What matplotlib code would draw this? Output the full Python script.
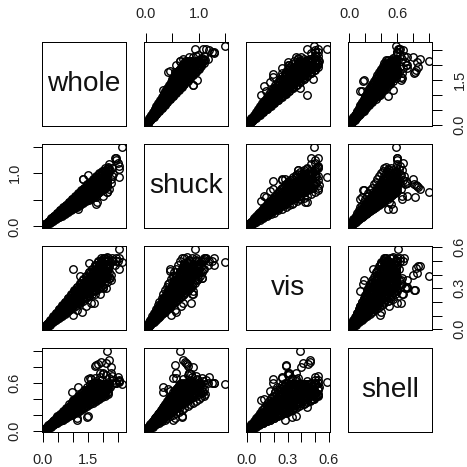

# Pairs plot of four weight measures
import matplotlib
matplotlib.use("Agg")
import matplotlib.pyplot as plt

plt.rcParams["font.family"] = ["Liberation Sans", "DejaVu Sans"]

whole = [
    .03, .09, .05, .10, .04, .08, .06, .05, .07, .09,
    .11, .18, .14, .19, .12, .17, .15, .13, .16, .18,
    .21, .28, .24, .29, .22, .27, .25, .23, .26, .28,
    .31, .38, .34, .39, .32, .37, .35, .33, .36, .38,
    .41, .48, .44, .49, .42, .47, .45, .43, .46, .48,
    .51, .58, .54, .59, .52, .57, .55, .53, .56, .58,
    .61, .68, .64, .69, .62, .67, .65, .63, .66, .68,
    .71, .78, .74, .79, .72, .77, .75, .73, .76, .78,
    .81, .88, .84, .89, .82, .87, .85, .83, .86, .88,
    .91, .98, .94, .99, .92, .97, .95, .93, .96, .98,
    1.01, 1.08, 1.04, 1.09, 1.02, 1.07, 1.05, 1.03, 1.06, 1.08,
    1.11, 1.18, 1.14, 1.19, 1.12, 1.17, 1.15, 1.13, 1.16, 1.18,
    1.21, 1.28, 1.24, 1.29, 1.22, 1.27, 1.25, 1.23, 1.26, 1.28,
    1.31, 1.38, 1.34, 1.39, 1.32, 1.37, 1.35, 1.33, 1.36, 1.38,
    1.41, 1.48, 1.44, 1.49, 1.42, 1.47, 1.45, 1.43, 1.46, 1.48,
    1.51, 1.58, 1.54, 1.59, 1.52, 1.57, 1.55, 1.53, 1.56, 1.58,
    1.61, 1.68, 1.64, 1.69, 1.62, 1.67, 1.65, 1.63, 1.66, 1.68,
    1.71, 1.78, 1.74, 1.79, 1.72, 1.77, 1.75, 1.73, 1.76, 1.78,
    1.81, 1.88, 1.84, 1.89, 1.82, 1.87, 1.85, 1.83, 1.86, 1.88,
    1.91, 1.98, 1.94, 1.99, 1.92, 1.97, 1.95, 1.93, 1.96, 1.98,
    2.01, 2.08, 2.04, 2.09, 2.02, 2.07, 2.05, 2.03, 2.06, 2.08,
    2.11, 2.18, 2.14, 2.19, 2.12, 2.17, 2.15, 2.13, 2.16, 2.18,
    # filling the middle of the cloud
    .07, .12, .09, .14, .06, .11, .13, .08, .10, .15,
    .17, .22, .19, .24, .16, .21, .23, .18, .20, .25,
    .27, .32, .29, .34, .26, .31, .33, .28, .30, .35,
    .37, .42, .39, .44, .36, .41, .43, .38, .40, .45,
    .47, .52, .49, .54, .46, .51, .53, .48, .50, .55,
    .57, .62, .59, .64, .56, .61, .63, .58, .60, .65,
    .67, .72, .69, .74, .66, .71, .73, .68, .70, .75,
    .77, .82, .79, .84, .76, .81, .83, .78, .80, .85,
    .87, .92, .89, .94, .86, .91, .93, .88, .90, .95,
    .97, 1.02, .99, 1.04, .96, 1.01, 1.03, .98, 1.00, 1.05,
    1.07, 1.12, 1.09, 1.14, 1.06, 1.11, 1.13, 1.08, 1.10, 1.15,
    1.17, 1.22, 1.19, 1.24, 1.16, 1.21, 1.23, 1.18, 1.20, 1.25,
    1.27, 1.32, 1.29, 1.34, 1.26, 1.31, 1.33, 1.28, 1.30, 1.35,
    1.37, 1.42, 1.39, 1.44, 1.36, 1.41, 1.43, 1.38, 1.40, 1.45,
    1.47, 1.52, 1.49, 1.54, 1.46, 1.51, 1.53, 1.48, 1.50, 1.55,
    1.57, 1.62, 1.59, 1.64, 1.56, 1.61, 1.63, 1.58, 1.60, 1.65,
    1.67, 1.72, 1.69, 1.74, 1.66, 1.71, 1.73, 1.68, 1.70, 1.75,
    1.77, 1.82, 1.79, 1.84, 1.76, 1.81, 1.83, 1.78, 1.80, 1.85,
    1.87, 1.92, 1.89, 1.94, 1.86, 1.91, 1.93, 1.88, 1.90, 1.95,
    1.97, 2.02, 1.99, 2.04, 1.96, 2.01, 2.03, 1.98, 2.00, 2.05,
    2.07, 2.12, 2.09, 2.14, 2.06, 2.11, 2.13, 2.08, 2.10, 2.15,
    # outlying shells
    2.63, 2.13, 2.52, 1.00, 2.20, 2.10, 1.76, 2.27, 2.27, 2.00,
    1.73, 1.57, 2.50, 2.45, 2.55, 2.40, 2.52, 2.30, 2.35, 2.20,
    2.30, 2.45, 2.25, 1.14, 1.50, 1.46, 1.15, .96, 1.18, 1.78,
    2.14, 1.51, 1.35, 1.33, 1.79, 1.25, 1.55, 1.29, 1.00, 1.70,
    1.43, 2.00, 2.20, 1.74, 1.90, 2.10, 1.60, 1.90, 1.85, 1.95,
]
shuck = [
    .01, .05, .02, .05, .01, .04, .03, .02, .04, .04,
    .04, .09, .06, .09, .04, .08, .07, .05, .09, .08,
    .08, .15, .10, .14, .07, .14, .11, .09, .14, .13,
    .11, .20, .14, .18, .11, .19, .15, .13, .19, .17,
    .15, .25, .18, .23, .14, .24, .20, .17, .25, .22,
    .18, .30, .23, .28, .17, .29, .24, .21, .30, .27,
    .22, .35, .27, .32, .20, .34, .29, .25, .36, .31,
    .26, .41, .31, .37, .24, .39, .33, .28, .41, .36,
    .29, .46, .35, .42, .27, .44, .37, .32, .46, .40,
    .33, .51, .39, .47, .30, .49, .42, .36, .52, .45,
    .36, .56, .44, .51, .34, .54, .46, .40, .57, .50,
    .40, .61, .48, .56, .37, .59, .51, .44, .63, .54,
    .43, .67, .52, .61, .40, .64, .55, .48, .68, .59,
    .47, .72, .56, .65, .44, .69, .59, .52, .73, .63,
    .51, .77, .60, .70, .47, .74, .64, .56, .79, .68,
    .54, .82, .65, .75, .50, .79, .68, .60, .84, .73,
    .58, .87, .69, .79, .53, .84, .73, .64, .89, .77,
    .62, .93, .73, .84, .57, .89, .77, .67, .95, .82,
    .67, .98, .77, .89, .63, .94, .81, .71, 1.00, .87,
    .72, 1.02, .81, .93, .68, .99, .85, .76, 1.05, .91,
    .80, 1.06, .88, .98, .76, 1.04, .90, .82, 1.09, .95,
    .88, 1.10, .95, 1.03, .85, 1.08, .98, .90, 1.12, 1.00,
    # filling the middle of the cloud
    .03, .04, .04, .05, .02, .05, .05, .04, .04, .05,
    .07, .08, .09, .08, .07, .10, .09, .08, .09, .09,
    .12, .12, .14, .12, .11, .155, .13, .13, .13, .12,
    .16, .155, .19, .15, .15, .205, .17, .175, .17, .16,
    .21, .19, .235, .18, .19, .255, .21, .22, .215, .19,
    .25, .23, .28, .22, .23, .305, .245, .27, .26, .23,
    .295, .265, .33, .25, .27, .355, .285, .31, .30, .26,
    .34, .30, .38, .285, .31, .405, .325, .36, .345, .30,
    .38, .34, .43, .32, .35, .455, .365, .405, .385, .33,
    .425, .38, .475, .355, .395, .505, .40, .45, .43, .37,
    .47, .415, .52, .39, .435, .555, .44, .495, .47, .40,
    .515, .45, .57, .42, .475, .605, .48, .54, .515, .44,
    .56, .49, .62, .455, .515, .655, .52, .59, .56, .47,
    .60, .525, .67, .49, .56, .705, .56, .635, .60, .51,
    .645, .56, .715, .525, .60, .755, .60, .68, .645, .54,
    .69, .60, .76, .56, .64, .805, .635, .725, .69, .58,
    .735, .635, .81, .59, .68, .855, .675, .77, .73, .61,
    .78, .67, .86, .63, .72, .905, .715, .82, .775, .65,
    .82, .71, .905, .66, .76, .955, .755, .865, .82, .68,
    .87, .75, .955, .70, .80, 1.00, .79, .91, .86, .72,
    .91, .80, 1.00, .75, .84, 1.05, .83, .95, .90, .78,
    # outlying shells
    1.49, .645, .93, .45, .70, .76, .55, .89, .81, .58,
    .58, .51, 1.19, 1.24, 1.08, 1.29, 1.14, .95, .98, 1.17,
    1.10, 1.28, 1.06, .55, .68, .68, .52, .33, .32, .42,
    .64, .96, .89, .90, .45, .52, .72, .58, .47, .86,
    .66, .86, 1.06, .80, .88, .80, .70, .82, .78, .75,
]
vis = [
    .01, .02, .01, .02, .01, .02, .01, .01, .02, .02,
    .03, .03, .04, .03, .03, .04, .03, .03, .04, .04,
    .05, .05, .06, .05, .05, .07, .05, .05, .07, .06,
    .07, .07, .09, .07, .07, .09, .06, .07, .09, .08,
    .10, .09, .12, .08, .09, .12, .08, .09, .12, .10,
    .12, .11, .15, .10, .11, .14, .10, .12, .15, .12,
    .15, .13, .17, .12, .13, .17, .12, .14, .17, .14,
    .17, .15, .20, .13, .15, .19, .14, .16, .20, .16,
    .19, .17, .23, .15, .17, .22, .15, .18, .22, .18,
    .22, .19, .25, .17, .19, .24, .17, .20, .25, .20,
    .24, .21, .28, .19, .21, .27, .19, .23, .28, .22,
    .27, .22, .31, .20, .24, .29, .21, .25, .30, .24,
    .29, .24, .33, .22, .26, .32, .23, .27, .33, .26,
    .31, .26, .36, .24, .28, .34, .24, .29, .35, .28,
    .34, .28, .39, .25, .30, .37, .26, .31, .38, .30,
    .36, .30, .42, .27, .32, .39, .28, .34, .41, .32,
    .39, .32, .44, .29, .34, .42, .30, .36, .43, .34,
    .41, .34, .47, .30, .36, .44, .32, .38, .46, .36,
    .43, .37, .49, .34, .39, .46, .35, .41, .48, .38,
    .45, .39, .51, .37, .42, .48, .38, .43, .50, .41,
    .46, .42, .52, .40, .44, .50, .41, .45, .52, .43,
    .46, .44, .51, .42, .46, .50, .43, .47, .52, .45,
    # filling the middle of the cloud
    .015, .02, .02, .03, .015, .02, .02, .02, .02, .04,
    .035, .04, .045, .05, .04, .045, .035, .045, .04, .065,
    .055, .06, .065, .07, .065, .07, .05, .07, .055, .095,
    .08, .075, .09, .09, .09, .09, .07, .09, .075, .12,
    .10, .095, .11, .11, .115, .11, .085, .115, .095, .15,
    .12, .11, .135, .13, .14, .135, .10, .14, .115, .175,
    .14, .13, .16, .15, .165, .155, .115, .165, .135, .20,
    .16, .15, .18, .17, .19, .18, .135, .19, .15, .23,
    .18, .165, .205, .19, .215, .20, .15, .21, .17, .255,
    .20, .185, .23, .21, .24, .22, .165, .235, .19, .285,
    .225, .20, .25, .23, .265, .245, .18, .26, .21, .31,
    .245, .22, .275, .25, .29, .265, .195, .285, .23, .34,
    .265, .24, .30, .27, .315, .29, .21, .31, .25, .365,
    .29, .255, .32, .29, .34, .31, .23, .33, .27, .39,
    .31, .275, .345, .31, .365, .33, .245, .355, .285, .42,
    .33, .29, .365, .33, .39, .355, .26, .38, .305, .445,
    .35, .31, .39, .35, .415, .375, .28, .40, .325, .47,
    .37, .33, .41, .37, .44, .40, .295, .425, .34, .50,
    .39, .345, .435, .39, .465, .42, .31, .45, .36, .52,
    .41, .365, .46, .41, .49, .44, .33, .475, .38, .52,
    .43, .38, .48, .43, .50, .46, .35, .50, .40, .53,
    # outlying shells
    .49, .39, .59, .44, .46, .41, .29, .40, .36, .30,
    .26, .33, .50, .50, .44, .47, .52, .52, .50, .47,
    .51, .52, .375, .14, .36, .33, .28, .21, .22, .33,
    .43, .36, .28, .26, .43, .39, .485, .125, .105, .19,
    .17, .31, .375, .285, .26, .30, .19, .31, .45, .465,
]
shell = [
    .01, .02, .01, .03, .01, .02, .02, .01, .02, .03,
    .03, .05, .03, .07, .03, .04, .05, .04, .03, .07,
    .06, .07, .05, .10, .06, .06, .08, .07, .05, .10,
    .09, .10, .07, .14, .09, .09, .12, .10, .08, .14,
    .12, .13, .10, .17, .11, .11, .15, .12, .10, .18,
    .15, .15, .12, .21, .14, .14, .18, .15, .12, .21,
    .18, .18, .14, .24, .17, .16, .21, .18, .14, .25,
    .21, .20, .16, .28, .19, .18, .25, .21, .16, .29,
    .24, .23, .18, .31, .22, .21, .28, .24, .18, .33,
    .27, .25, .21, .35, .25, .23, .31, .27, .20, .36,
    .30, .28, .23, .38, .28, .26, .35, .30, .22, .40,
    .33, .31, .25, .42, .30, .28, .38, .33, .24, .44,
    .36, .33, .27, .45, .33, .30, .41, .36, .26, .47,
    .39, .36, .29, .49, .36, .33, .45, .39, .29, .51,
    .42, .38, .32, .52, .38, .35, .48, .41, .31, .55,
    .45, .41, .34, .56, .41, .38, .51, .44, .33, .58,
    .48, .44, .36, .59, .44, .40, .54, .47, .35, .60,
    .51, .46, .38, .60, .46, .42, .56, .50, .37, .62,
    .52, .48, .40, .58, .48, .44, .55, .51, .40, .60,
    .52, .49, .43, .58, .49, .46, .55, .52, .42, .58,
    .52, .50, .45, .58, .50, .47, .55, .53, .44, .57,
    .53, .52, .47, .58, .52, .49, .56, .54, .46, .57,
    # filling the middle of the cloud
    .02, .04, .02, .04, .015, .03, .05, .02, .03, .04,
    .045, .07, .05, .07, .04, .06, .08, .05, .06, .065,
    .07, .105, .07, .10, .06, .09, .12, .08, .09, .09,
    .10, .14, .10, .13, .08, .12, .155, .105, .125, .115,
    .125, .17, .12, .16, .105, .15, .19, .135, .155, .145,
    .155, .205, .15, .19, .13, .175, .225, .16, .185, .17,
    .18, .24, .17, .22, .15, .205, .265, .19, .215, .195,
    .21, .27, .20, .25, .175, .235, .30, .22, .25, .22,
    .235, .305, .22, .28, .20, .265, .335, .245, .28, .245,
    .26, .335, .25, .31, .22, .29, .37, .275, .31, .27,
    .29, .37, .27, .34, .245, .32, .41, .30, .34, .30,
    .315, .40, .30, .37, .265, .35, .44, .33, .37, .325,
    .345, .435, .32, .40, .29, .38, .48, .36, .40, .35,
    .37, .47, .35, .43, .31, .41, .51, .385, .43, .38,
    .40, .50, .37, .46, .335, .44, .54, .415, .465, .40,
    .425, .53, .40, .49, .36, .465, .57, .44, .495, .43,
    .45, .56, .42, .52, .38, .495, .60, .47, .525, .455,
    .48, .58, .45, .55, .405, .525, .60, .50, .555, .48,
    .505, .58, .47, .58, .43, .555, .58, .525, .58, .51,
    .53, .58, .50, .59, .45, .58, .58, .555, .58, .53,
    .55, .58, .52, .58, .48, .58, .58, .57, .58, .55,
    # outlying shells
    .58, 1.00, .61, .30, .89, .85, .82, .80, .72, .72,
    .66, .66, .67, .60, .62, .60, .63, .69, .64, .60,
    .58, .60, .55, .16, .18, .17, .14, .48, .55, .52,
    .58, .65, .42, .44, .50, .36, .40, .40, .38, .60,
    .50, .71, .66, .81, .67, .70, .65, .72, .83, .86,
]

names = ["whole", "shuck", "vis", "shell"]
columns = [whole, shuck, vis, shell]
limits = [(-.033, 2.77), (-.03, 1.55), (-.005, .61), (-.015, 1.035)]
ticks = [
    [0, .5, 1, 1.5, 2, 2.5],
    [0, .5, 1, 1.5],
    [0, .1, .2, .3, .4, .5, .6],
    [0, .2, .4, .6, .8, 1],
]
tick_labels = [
    ["0.0", "", "", "1.5", "", ""],
    ["0.0", "", "1.0", ""],
    ["0.0", "", "", "0.3", "", "", "0.6"],
    ["0.0", "", "", "0.6", "", ""],
]

SIZE = 467
panel_left = [42, 144, 246, 348]
panel_top = [42, 144, 246, 348]
panel_size = 84

fig = plt.figure(figsize=(SIZE / 72, SIZE / 72), dpi=72)

for r in range(4):
    for c in range(4):
        ax = fig.add_axes([panel_left[c] / SIZE,
                           1 - (panel_top[r] + panel_size) / SIZE,
                           panel_size / SIZE, panel_size / SIZE])
        ax.set_xlim(limits[c])
        ax.set_ylim(limits[r])
        if r == c:
            ax.text(.5, .5, names[r], transform=ax.transAxes, fontsize=28,
                    ha="center", va="center", color="#111111")
        else:
            ax.plot(columns[c], columns[r], "o", mfc="none", mec="black",
                    ms=7.5, mew=1.4, clip_on=True)

        ax.set_xticks([])
        ax.set_yticks([])
        # R puts the axes alternately round the outside of the grid
        if r == 3 and c % 2 == 0:
            ax.set_xticks(ticks[c], tick_labels[c])
        if r == 0 and c % 2 == 1:
            ax.set_xticks(ticks[c], tick_labels[c])
            ax.xaxis.tick_top()
        if c == 0 and r % 2 == 1:
            ax.set_yticks(ticks[r], tick_labels[r])
        if c == 3 and r % 2 == 0:
            ax.set_yticks(ticks[r], tick_labels[r])
            ax.yaxis.tick_right()
        ax.tick_params(length=9.5, width=1, pad=11, labelsize=14.5,
                       labelcolor="#222222")
        ax.tick_params(axis="y", labelrotation=90)
        for lab in ax.get_yticklabels():
            lab.set_va("center")
        for sp in ax.spines.values():
            sp.set_linewidth(1)

fig.savefig("out.png", dpi=72)
